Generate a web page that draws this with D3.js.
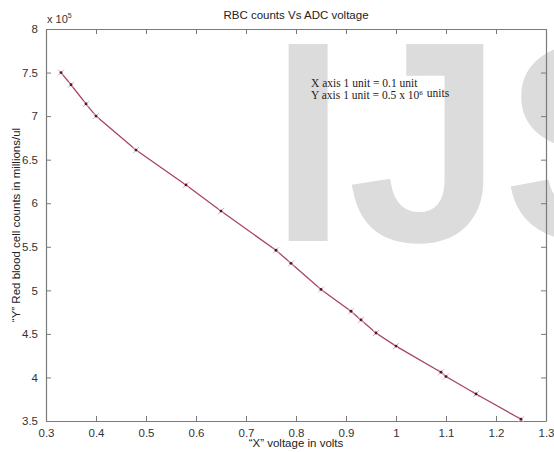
<!DOCTYPE html>
<html>
<head>
<meta charset="utf-8">
<script src="https://cdn.jsdelivr.net/npm/d3@7"></script>
<style>
  html, body { margin: 0; padding: 0; background: #fff; }
  svg { display: block; }
</style>
</head>
<body>
<svg id="chart" width="554" height="452"></svg>
<script>
// ---- data ----
const voltage = [0.33, 0.35, 0.38, 0.40, 0.48, 0.58, 0.65, 0.76, 0.79, 0.85, 0.91, 0.93, 0.96, 1.00, 1.09, 1.10, 1.16, 1.25];
const rbcCount = [7.50, 7.36, 7.14, 7.00, 6.61, 6.21, 5.91, 5.46, 5.31, 5.01, 4.76, 4.66, 4.51, 4.36, 4.06, 4.01, 3.81, 3.52];
const xTicks = [0.3, 0.4, 0.5, 0.6, 0.7, 0.8, 0.9, 1.0, 1.1, 1.2, 1.3];
const yTicks = [3.5, 4, 4.5, 5, 5.5, 6, 6.5, 7, 7.5, 8];
const titleText = "RBC counts Vs ADC voltage";
const xLabel = "\u201CX\u201D voltage in volts";
const yLabel = "\u201CY\u201D Red blood cell counts in millions/ul";
const noteLine1 = "X axis 1 unit = 0.1 unit";
const noteLine2 = "Y axis 1 unit = 0.5 x 10";
const watermark = "IJS";

(function () {
const svg = d3.select("#chart");
const pL = 46, pR = 546, pT = 29, pB = 421;
const x = d3.scaleLinear().domain([0.3, 1.3]).range([pL, pR]);
const y = d3.scaleLinear().domain([3.5, 8]).range([pB, pT]);

svg.append("rect").attr("width", 554).attr("height", 452).attr("fill", "#fff");

// watermark (thickened glyphs, slightly compressed vertically)
svg.append("g").attr("transform", "translate(0,235.5) scale(1,0.935)")
  .append("text")
  .attr("x", 268).attr("y", 0)
  .attr("font-family", "Liberation Sans, Arial, sans-serif")
  .attr("font-size", 289)
  .attr("letter-spacing", 6)
  .attr("fill", "#dcdcdc")
  .attr("stroke", "#dcdcdc").attr("stroke-width", 12).attr("stroke-linejoin", "miter")
  .text(watermark);

const axisFont = "Liberation Sans, Arial, Helvetica, sans-serif";
const axisColor = "#7a7a7a";

// axes (MATLAB box with inward ticks)
const xAxisB = d3.axisBottom(x).tickValues(xTicks).tickSizeInner(-5).tickSizeOuter(0)
  .tickPadding(8).tickFormat(d3.format("~g"));
const xAxisT = d3.axisTop(x).tickValues(xTicks).tickSizeInner(-5).tickSizeOuter(0).tickFormat("");
const yAxisL = d3.axisLeft(y).tickValues(yTicks).tickSizeInner(-5).tickSizeOuter(0)
  .tickPadding(8).tickFormat(d3.format("~g"));
const yAxisR = d3.axisRight(y).tickValues(yTicks).tickSizeInner(-5).tickSizeOuter(0).tickFormat("");

function styleAxis(g) {
  g.selectAll("path.domain").attr("stroke", axisColor).attr("stroke-width", 1.2);
  g.selectAll(".tick line").attr("stroke", axisColor);
  g.selectAll("text").attr("fill", "#333").attr("font-family", axisFont).attr("font-size", 11.5);
}
svg.append("g").attr("transform", `translate(0,${pB})`).call(xAxisB).call(styleAxis);
svg.append("g").attr("transform", `translate(0,${pT})`).call(xAxisT).call(styleAxis);
svg.append("g").attr("transform", `translate(${pL},0)`).call(yAxisL).call(styleAxis);
svg.append("g").attr("transform", `translate(${pR},0)`).call(yAxisR).call(styleAxis);

// exponent label
const expo = svg.append("text").attr("x", 47).attr("y", 23)
  .attr("font-family", axisFont).attr("font-size", 11).attr("fill", "#333");
expo.append("tspan").text("x 10");
expo.append("tspan").attr("dy", -5).attr("font-size", 7).text("5");

// title and axis labels
svg.append("text").attr("x", (pL + pR) / 2).attr("y", 19)
  .attr("text-anchor", "middle").attr("font-family", axisFont).attr("font-size", 11.5)
  .attr("fill", "#222").text(titleText);
svg.append("text").attr("x", (pL + pR) / 2).attr("y", 447)
  .attr("text-anchor", "middle").attr("font-family", axisFont).attr("font-size", 11.5)
  .attr("fill", "#222").text(xLabel);
svg.append("text").attr("transform", `translate(20,${(pT + pB) / 2}) rotate(-90)`)
  .attr("text-anchor", "middle").attr("font-family", axisFont).attr("font-size", 11.5)
  .attr("fill", "#222").text(yLabel);

// annotation
const serif = "Liberation Serif, Times New Roman, serif";
svg.append("text").attr("x", 311).attr("y", 87)
  .attr("font-family", serif).attr("font-size", 11.5).attr("fill", "#222").text(noteLine1);
const n2 = svg.append("text").attr("x", 311).attr("y", 99)
  .attr("font-family", serif).attr("font-size", 11.5).attr("fill", "#222");
n2.append("tspan").text(noteLine2);
n2.append("tspan").attr("dy", -4).attr("font-size", 7).text("6");
n2.append("tspan").attr("dy", 2).attr("dx", 4).text("units");

// data line
const data = voltage.map((v, i) => ({ v, c: rbcCount[i] }));
svg.append("path").datum(data)
  .attr("fill", "none").attr("stroke", "#a8455e").attr("stroke-width", 1.3)
  .attr("d", d3.line().x(d => x(d.v)).y(d => y(d.c)));

// markers
const m = svg.append("g").selectAll("g").data(data).join("g")
  .attr("transform", d => `translate(${x(d.v)},${y(d.c)})`);
m.append("path").attr("d", "M-3,-3L3,3M-3,3L3,-3")
  .attr("stroke", "#e6a8b8").attr("stroke-width", 1).attr("fill", "none");
m.append("circle").attr("r", 1.4).attr("fill", "#4a1a2a");
})();
</script>
</body>
</html>
